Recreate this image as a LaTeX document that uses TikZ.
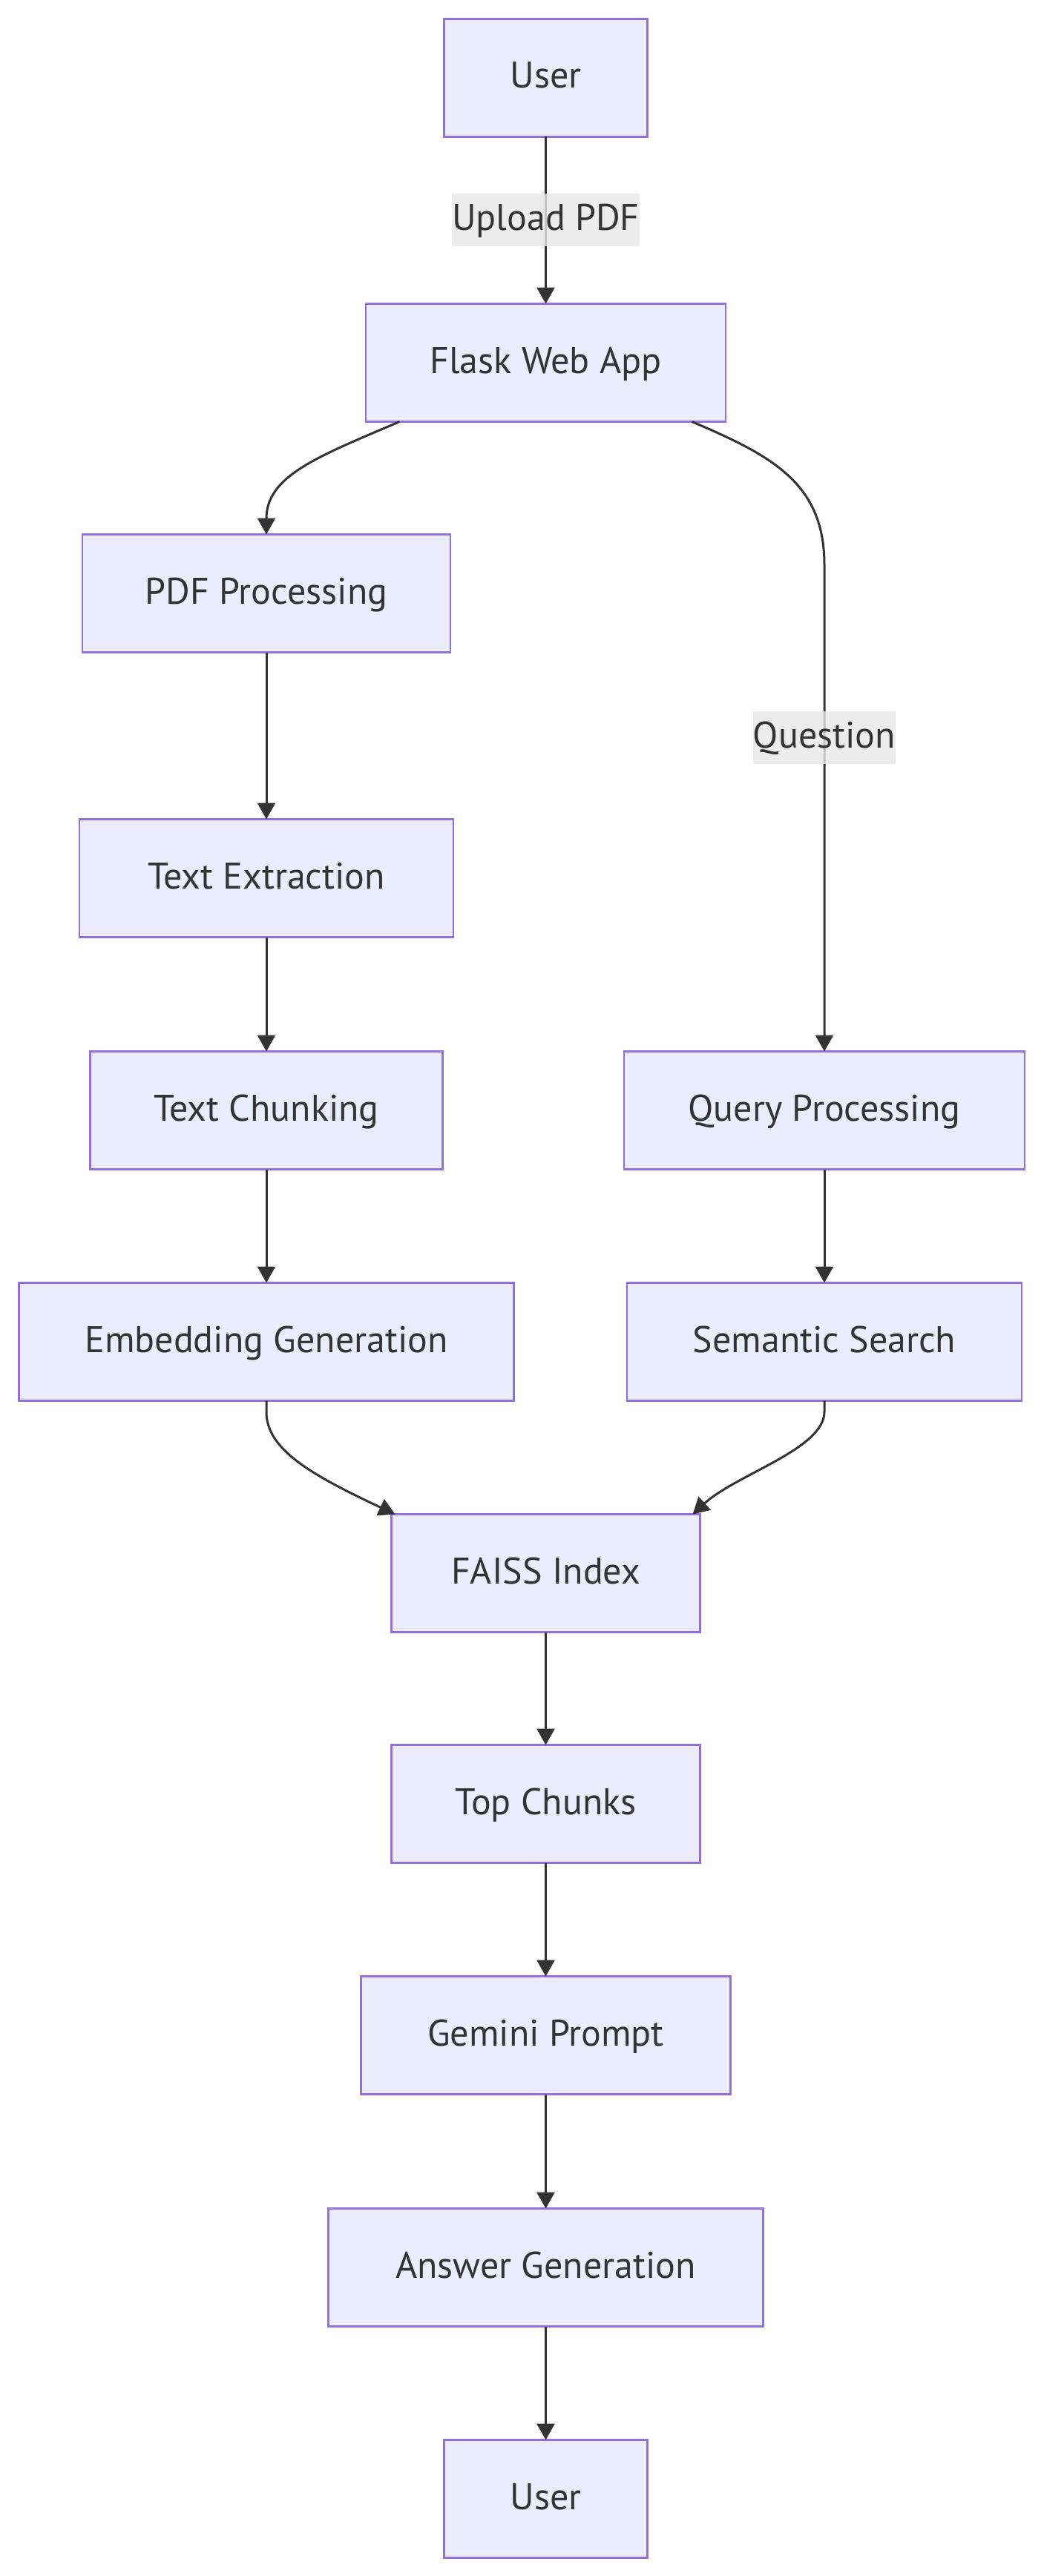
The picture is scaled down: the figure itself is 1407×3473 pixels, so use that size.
\documentclass[tikz,border=0pt]{standalone}
\usepackage{fontspec}
\setmainfont{PT Sans}
\usetikzlibrary{arrows.meta,calc}
\definecolor{boxfill}{HTML}{ECECFF}
\definecolor{boxdraw}{HTML}{9370DB}
\definecolor{ink}{HTML}{333333}
\definecolor{lblbg}{HTML}{E8E8E8}
\tikzset{
  box/.style={draw=boxdraw, fill=boxfill, line width=2.7pt, minimum height=159pt,
    inner sep=0pt, outer sep=0pt, text=ink, text height=40pt, text depth=12pt,
    font=\fontsize{50}{60}\selectfont},
  edge/.style={draw=ink, line width=3pt, -{Triangle[length=22pt,width=24pt]}},
  elabel/.style={fill=lblbg, fill opacity=0.8, text opacity=1, text=ink, inner sep=0pt,
    minimum height=71pt, text height=40pt, text depth=12pt,
    font=\fontsize{50}{60}\selectfont}
}
\begin{document}
\begin{tikzpicture}[x=1pt,y=-1pt]
\fill[white] (0,0) rectangle (1407,3473);
\useasboundingbox (0,0) rectangle (1407,3473);

\node[box, minimum width=274pt] (user1) at (735.5,105) {User};
\node[box, minimum width=485pt] (flask) at (735.5,489) {Flask Web App};
\node[box, minimum width=496pt] (pdf) at (359,800) {PDF Processing};
\node[box, minimum width=504pt] (textx) at (359,1184) {Text Extraction};
\node[box, minimum width=475pt] (chunk) at (359,1497) {Text Chunking};
\node[box, minimum width=540pt] (query) at (1111,1497) {Query Processing};
\node[box, minimum width=667pt] (embed) at (359,1809) {Embedding Generation};
\node[box, minimum width=532pt] (search) at (1111,1809) {Semantic Search};
\node[box, minimum width=416pt] (faiss) at (735.5,2121) {FAISS Index};
\node[box, minimum width=416pt] (top) at (735.5,2432) {Top Chunks};
\node[box, minimum width=498pt] (gemini) at (735.5,2744) {Gemini Prompt};
\node[box, minimum width=586pt] (answer) at (735.5,3057) {Answer Generation};
\node[box, minimum width=274pt] (user2) at (735.5,3369) {User};

\draw[edge] (user1.south) -- node[elabel, minimum width=247pt] {Upload PDF} (flask.north);

\draw[edge] ($(flask.south)+(-197,0)$) .. controls ($(flask.south)+(-307,47)$) and ($(pdf.north)+(0,-79)$) .. (pdf.north);

\coordinate (qbend) at ($(query.north)+(0,-656)$);
\draw[edge] ($(flask.south)+(197,0)$) .. controls ($(flask.south)+(305,46)$) and ($(qbend)+(0,-110)$) .. (qbend)
  -- node[elabel, minimum width=189pt, pos=0.355] {Question} (query.north);

\draw[edge] (pdf.south) -- (textx.north);
\draw[edge] (textx.south) -- (chunk.north);
\draw[edge] (chunk.south) -- (embed.north);
\draw[edge] (query.south) -- (search.north);

\draw[edge] (embed.south) -- ++(0,15) .. controls ++(0,50) and ($(faiss.north west)+(-110,-54)$) .. ($(faiss.north west)+(5,0)$);
\draw[edge] (search.south) -- ++(0,15) .. controls ++(0,50) and ($(faiss.north east)+(49,-54)$) .. ($(faiss.north east)+(-10,0)$);

\draw[edge] (faiss.south) -- (top.north);
\draw[edge] (top.south) -- (gemini.north);
\draw[edge] (gemini.south) -- (answer.north);
\draw[edge] (answer.south) -- (user2.north);
\end{tikzpicture}
\end{document}
